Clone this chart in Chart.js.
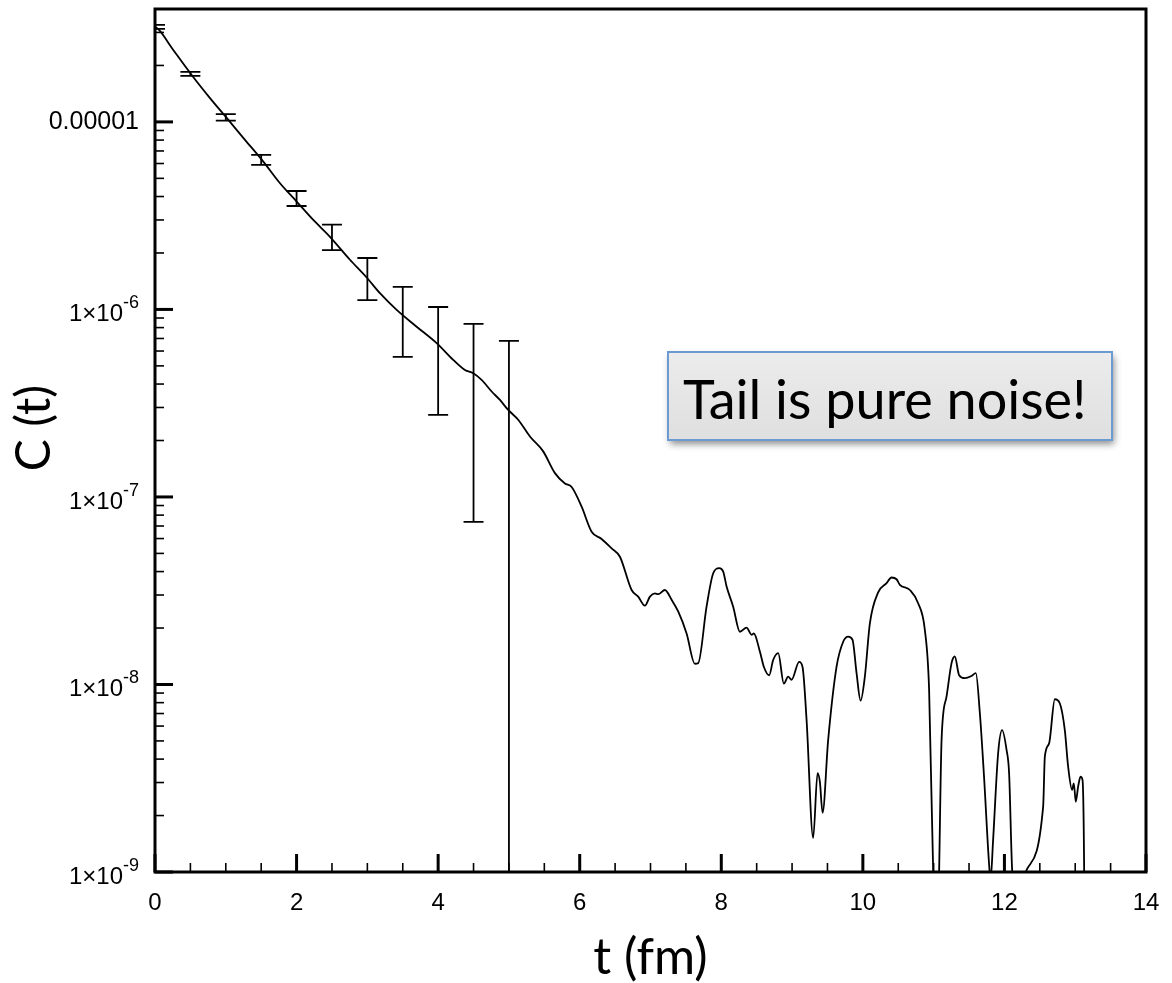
<!DOCTYPE html>
<html>
<head>
<meta charset="utf-8">
<script src="https://cdn.jsdelivr.net/npm/chart.js@4.4.1/dist/chart.umd.min.js"></script>
<style>
  body { margin: 0; background: #fff; }
  #chart-container { width: 1172px; height: 983px; }
</style>
</head>
<body>
<div id="chart-container"><canvas id="corr"></canvas></div>
<script>
// correlator C(t) against Euclidean time t (fm)
const tValues = [
  0, 0.047, 0.258, 0.518, 0.777, 1.013, 1.271, 1.530, 1.766, 2.001,
  2.236, 2.472, 2.754, 2.990, 3.178, 3.414, 3.696, 3.979, 4.213, 4.379,
  4.496, 4.614, 4.756, 4.873, 4.990, 5.131, 5.297, 5.484, 5.650, 5.791,
  5.886, 6.027, 6.168, 6.309, 6.451, 6.568, 6.733, 6.826, 6.921, 6.992,
  7.062, 7.109, 7.203, 7.298, 7.391, 7.510, 7.627, 7.674, 7.792, 7.886,
  7.970, 8.027, 8.075, 8.168, 8.263, 8.357, 8.428, 8.460, 8.545, 8.602,
  8.677, 8.733, 8.804, 8.884, 8.945, 8.993, 9.100, 9.148, 9.205, 9.298,
  9.360, 9.393, 9.431, 9.510, 9.628, 9.722, 9.792, 9.854, 9.911, 9.968,
  10.028, 10.099, 10.216, 10.335, 10.405, 10.476, 10.523, 10.664, 10.781, 10.876,
  10.936, 10.993, 11.030, 11.078, 11.112, 11.182, 11.253, 11.299, 11.360, 11.441,
  11.535, 11.596, 11.653, 11.709, 11.784, 11.804, 11.840, 11.911, 11.967, 12.030,
  12.066, 12.109, 12.190, 12.300, 12.547, 12.571, 12.631, 12.712, 12.782, 12.853, 12.900,
  12.956, 12.980, 13.008, 13.041, 13.075, 13.103, 13.126, 13.140
];
const cValues = [
  3.21e-5, 3.12e-5, 2.42e-5, 1.78e-5, 1.34e-5, 1.05e-5, 8.02e-6, 6.14e-6, 4.71e-6, 3.76e-6,
  3.00e-6, 2.44e-6, 1.84e-6, 1.48e-6, 1.22e-6, 9.94e-7, 8.09e-7, 6.61e-7, 5.38e-7, 4.75e-7,
  4.57e-7, 4.21e-7, 3.65e-7, 3.29e-7, 2.91e-7, 2.58e-7, 2.10e-7, 1.75e-7, 1.34e-7, 1.18e-7,
  1.13e-7, 8.87e-8, 6.53e-8, 5.97e-8, 5.32e-8, 4.80e-8, 3.19e-8, 2.94e-8, 2.63e-8, 2.94e-8,
  3.06e-8, 3.03e-8, 3.19e-8, 2.83e-8, 2.45e-8, 1.87e-8, 1.29e-8, 1.30e-8, 2.60e-8, 3.92e-8,
  4.17e-8, 4.00e-8, 3.33e-8, 2.60e-8, 1.91e-8, 2.01e-8, 1.84e-8, 1.87e-8, 1.50e-8, 1.24e-8,
  1.12e-8, 1.35e-8, 1.47e-8, 1.01e-8, 1.10e-8, 1.06e-8, 1.32e-8, 1.24e-8, 6.47e-9, 1.52e-9,
  3.37e-9, 3.02e-9, 2.07e-9, 5.06e-9, 1.24e-8, 1.69e-8, 1.80e-8, 1.73e-8, 1.15e-8, 8.20e-9,
  1.10e-8, 2.12e-8, 3.10e-8, 3.47e-8, 3.72e-8, 3.64e-8, 3.40e-8, 3.19e-8, 2.71e-8, 1.95e-8,
  9.35e-9, 1.03e-9, 1.0e-10, 1.03e-9, 5.06e-9, 8.61e-9, 1.30e-8, 1.41e-8, 1.12e-8, 1.08e-8,
  1.11e-8, 1.15e-8, 7.02e-9, 3.36e-9, 1.09e-9, 9.06e-10, 1.48e-9, 4.30e-9, 5.71e-9, 4.48e-9,
  3.36e-9, 1.03e-9, 6.8e-10, 1.0e-9, 2.23e-9, 4.12e-9, 4.85e-9, 8.34e-9, 7.94e-9, 5.71e-9, 3.65e-9,
  2.74e-9, 2.97e-9, 2.37e-9, 2.85e-9, 3.22e-9, 3.10e-9, 1.03e-9, 1.0e-10
];

// error bars every 0.5 fm up to t = 5 (last lower end runs off the axis)
const errT = [0, 0.5, 1, 1.5, 2, 2.5, 3, 3.5, 4, 4.5, 5];
const errHigh = [3.29e-5, 1.85e-5, 1.10e-5, 6.67e-6, 4.28e-6, 2.83e-6, 1.88e-6, 1.32e-6, 1.03e-6, 8.37e-7, 6.79e-7];
const errLow = [3.13e-5, 1.76e-5, 1.016e-5, 5.90e-6, 3.56e-6, 2.07e-6, 1.12e-6, 5.58e-7, 2.74e-7, 7.36e-8, 1e-10];

// axis ticks
const xMajor = [0, 2, 4, 6, 8, 10, 12, 14];
const xMinorStep = 0.5;
const yDecades = [1e-9, 1e-8, 1e-7, 1e-6, 1e-5];
const yLabelBase = ['1×10', '1×10', '1×10', '1×10', '0.00001'];
const yLabelExp = ['-9', '-8', '-7', '-6', ''];

const tickFont = { family: 'Liberation Sans', size: 24 };

function decadeIndex(v) {
  return yDecades.findIndex(d => Math.abs(v / d - 1) < 1e-6);
}

// inward tick marks plus the heavy frame
const framePlugin = {
  id: 'frame',
  afterDatasetsDraw(chart) {
    const ctx = chart.ctx;
    const area = chart.chartArea;
    const xs = chart.scales.x, ys = chart.scales.y;
    ctx.save();
    ctx.strokeStyle = '#000';
    xs.ticks.forEach(t => {
      const major = xMajor.includes(t.value);
      const px = xs.getPixelForValue(t.value);
      ctx.lineWidth = major ? 3 : 1.6;
      ctx.beginPath();
      ctx.moveTo(px, area.bottom);
      ctx.lineTo(px, area.bottom - (major ? 18 : 9));
      ctx.stroke();
    });
    ys.ticks.forEach(t => {
      const major = decadeIndex(t.value) >= 0;
      const py = ys.getPixelForValue(t.value);
      ctx.lineWidth = major ? 3 : 1.6;
      ctx.beginPath();
      ctx.moveTo(area.left, py);
      ctx.lineTo(area.left + (major ? 18 : 9), py);
      ctx.stroke();
    });
    ctx.lineWidth = 3;
    ctx.strokeRect(area.left, area.top, area.right - area.left, area.bottom - area.top);
    ctx.restore();
  }
};

// y labels with raised exponents, and the rotated y title
const yLabelPlugin = {
  id: 'yLabels',
  afterDraw(chart) {
    const ctx = chart.ctx;
    const ys = chart.scales.y;
    const right = chart.chartArea.left - 16;
    ctx.save();
    ctx.fillStyle = '#000';
    ctx.textBaseline = 'middle';
    ctx.textAlign = 'right';
    yDecades.forEach((d, i) => {
      const py = ys.getPixelForValue(d);
      if (!yLabelExp[i]) {
        ctx.font = '25px "Liberation Sans"';
        ctx.fillText(yLabelBase[i], right, py);
        return;
      }
      ctx.font = '18px "Liberation Sans"';
      const ew = ctx.measureText(yLabelExp[i]).width;
      ctx.fillText(yLabelExp[i], right, py - 6);
      ctx.font = '24px "Liberation Sans"';
      ctx.fillText(yLabelBase[i], right - ew, py + 5);
    });
    ctx.translate(35, 428);
    ctx.rotate(-Math.PI / 2);
    ctx.textAlign = 'center';
    ctx.font = '48px Lato';
    ctx.fillText('C (t)', 0, 0);
    ctx.restore();
  }
};

const errorBarPlugin = {
  id: 'errorBars',
  afterDatasetsDraw(chart) {
    const ctx = chart.ctx;
    const area = chart.chartArea;
    const xs = chart.scales.x, ys = chart.scales.y;
    ctx.save();
    ctx.beginPath();
    ctx.rect(area.left, area.top, area.right - area.left, area.bottom - area.top);
    ctx.clip();
    ctx.strokeStyle = '#000';
    ctx.lineWidth = 1.8;
    errT.forEach((t, i) => {
      const px = xs.getPixelForValue(t);
      const yHi = ys.getPixelForValue(errHigh[i]);
      const yLo = ys.getPixelForValue(errLow[i]);
      ctx.beginPath();
      ctx.moveTo(px, yHi);
      ctx.lineTo(px, yLo);
      ctx.moveTo(px - 10, yHi);
      ctx.lineTo(px + 10, yHi);
      ctx.moveTo(px - 10, yLo);
      ctx.lineTo(px + 10, yLo);
      ctx.stroke();
    });
    ctx.restore();
  }
};

// callout box
const notePlugin = {
  id: 'note',
  afterDraw(chart) {
    const ctx = chart.ctx;
    const bx = 668, by = 352, bw = 444, bh = 88;
    ctx.save();
    ctx.shadowColor = 'rgba(0,0,0,0.45)';
    ctx.shadowBlur = 7;
    ctx.shadowOffsetX = 2;
    ctx.shadowOffsetY = 4;
    const grad = ctx.createLinearGradient(0, by, 0, by + bh);
    grad.addColorStop(0, '#ececec');
    grad.addColorStop(1, '#dfdfdf');
    ctx.fillStyle = grad;
    ctx.fillRect(bx, by, bw, bh);
    ctx.restore();
    ctx.save();
    ctx.strokeStyle = '#6c9bd2';
    ctx.lineWidth = 2;
    ctx.strokeRect(bx, by, bw, bh);
    ctx.fillStyle = '#000';
    ctx.font = '54px Lato';
    ctx.textBaseline = 'alphabetic';
    ctx.fillText('Tail is pure noise!', bx + 15, by + 67);
    ctx.restore();
  }
};

const canvas = document.getElementById('corr');
const chart = new Chart(canvas, {
  type: 'line',
  data: {
    datasets: [{
      data: tValues.map((t, i) => ({ x: t, y: cValues[i] })),
      borderColor: '#000',
      borderWidth: 1.8,
      pointRadius: 0,
      fill: false,
      cubicInterpolationMode: 'monotone'
    }]
  },
  options: {
    responsive: true,
    maintainAspectRatio: false,
    animation: false,
    events: [],
    layout: { padding: { top: 9, right: 26, left: 0, bottom: 0 } },
    plugins: { legend: { display: false }, tooltip: { enabled: false } },
    scales: {
      x: {
        type: 'linear',
        min: 0,
        max: 14,
        grid: { display: false },
        border: { display: false },
        afterBuildTicks: scale => {
          const ticks = [];
          for (let v = 0; v <= 14 + 1e-9; v += xMinorStep) ticks.push({ value: v });
          scale.ticks = ticks;
        },
        afterFit: scale => {
          scale.height = 111;
          scale.paddingLeft = 0;
          scale.paddingRight = 0;
        },
        ticks: {
          autoSkip: false,
          maxRotation: 0,
          padding: 9,
          color: '#000',
          font: tickFont,
          callback: v => xMajor.includes(v) ? String(v) : ''
        },
        title: {
          display: true,
          text: 't (fm)',
          color: '#000',
          font: { family: 'Lato', size: 50, lineHeight: 1 },
          padding: { top: 0, bottom: 0 }
        }
      },
      y: {
        type: 'logarithmic',
        min: 1e-9,
        max: 4e-5,
        grid: { display: false },
        border: { display: false },
        afterBuildTicks: scale => {
          const ticks = [];
          yDecades.forEach(d => {
            for (let k = 1; k <= 9; k++) {
              const v = k * d;
              if (v <= 4e-5) ticks.push({ value: v });
            }
          });
          scale.ticks = ticks;
        },
        afterFit: scale => {
          scale.width = 155;
          scale.paddingTop = 0;
          scale.paddingBottom = 0;
        },
        ticks: {
          autoSkip: false,
          callback: () => ''
        }
      }
    }
  },
  plugins: [errorBarPlugin, framePlugin, yLabelPlugin, notePlugin]
});
</script>
</body>
</html>
